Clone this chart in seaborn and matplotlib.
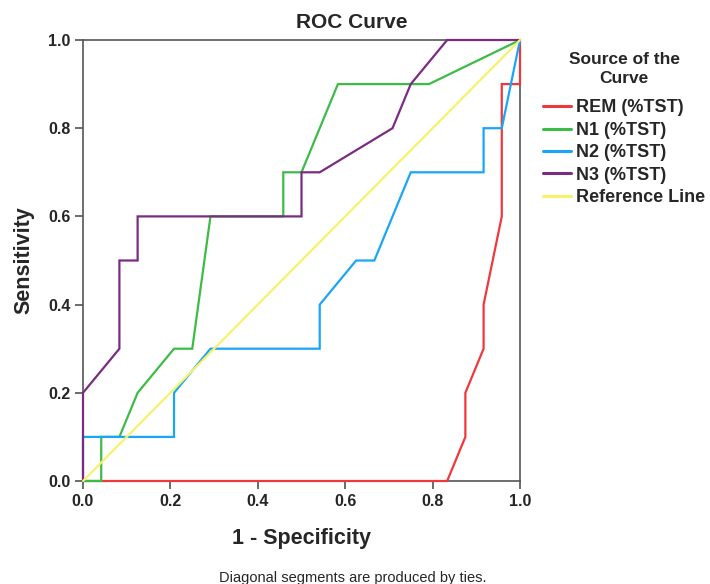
import numpy as np
import pandas as pd
import matplotlib
matplotlib.use("Agg")
import matplotlib.pyplot as plt
import seaborn as sns

# ROC curve coordinates (1 - specificity, sensitivity)
rem_x = [0, 0.8333, 0.875, 0.875, 0.9167, 0.9167, 0.9583, 0.9583, 1.0, 1.0]
rem_y = [0, 0.0, 0.1, 0.2, 0.3, 0.4, 0.6, 0.9, 0.9, 1.0]

n1_x = [0, 0.0417, 0.0417, 0.0833, 0.125, 0.2083, 0.25, 0.2917, 0.4583, 0.4583, 0.5, 0.5833, 0.7917, 1.0]
n1_y = [0, 0.0, 0.1, 0.1, 0.2, 0.3, 0.3, 0.6, 0.6, 0.7, 0.7, 0.9, 0.9, 1.0]

n2_x = [0, 0, 0.2083, 0.2083, 0.2917, 0.5417, 0.5417, 0.625, 0.6667, 0.75, 0.9167, 0.9167, 0.9583, 1.0]
n2_y = [0, 0.1, 0.1, 0.2, 0.3, 0.3, 0.4, 0.5, 0.5, 0.7, 0.7, 0.8, 0.8, 1.0]

n3_x = [0, 0, 0.0833, 0.0833, 0.125, 0.125, 0.5, 0.5, 0.5417, 0.7083, 0.75, 0.8333, 1.0]
n3_y = [0, 0.2, 0.3, 0.5, 0.5, 0.6, 0.6, 0.7, 0.7, 0.8, 0.9, 1.0, 1.0]

ref_x = [0, 1]
ref_y = [0, 1]

series_names = ["REM (%TST)", "N1 (%TST)", "N2 (%TST)", "N3 (%TST)", "Reference Line"]
series_colors = ["#f0373c", "#3dbb47", "#1aa6f7", "#7b2b82", "#f7f26a"]
x_ticks = [0.0, 0.2, 0.4, 0.6, 0.8, 1.0]
y_ticks = [0.0, 0.2, 0.4, 0.6, 0.8, 1.0]

frames = []
for name, xs, ys in zip(series_names,
                        [rem_x, n1_x, n2_x, n3_x, ref_x],
                        [rem_y, n1_y, n2_y, n3_y, ref_y]):
    frames.append(pd.DataFrame({"fpr": xs, "tpr": ys, "Source": name,
                                "order": np.arange(len(xs))}))
df = pd.concat(frames, ignore_index=True)

sns.set_style("white")
plt.rcParams["font.family"] = ["Liberation Sans", "DejaVu Sans"]

fig = plt.figure(figsize=(7.1, 5.84), dpi=100)
ax = fig.add_axes([83/710, 1 - 481/584, 437/710, 441/584])

sns.lineplot(data=df, x="fpr", y="tpr", hue="Source", hue_order=series_names,
             palette=dict(zip(series_names, series_colors)),
             sort=False, estimator=None, units="Source", linewidth=1.6, ax=ax)
for ln in ax.lines:
    ln.set_clip_on(False)
    ln.set_zorder(3)
    ln.set_solid_joinstyle("miter")

ax.set_xlim(0, 1)
ax.set_ylim(0, 1)
ax.set_xticks(x_ticks)
ax.set_yticks(y_ticks)
ax.set_xticklabels([f"{t:.1f}" for t in x_ticks], fontsize=11.5, fontweight="bold")
ax.set_yticklabels([f"{t:.1f}" for t in y_ticks], fontsize=11.5, fontweight="bold")
ax.tick_params(axis="both", direction="out", length=6, width=1.1, color="#444444",
               bottom=True, left=True, top=False, right=False, pad=3)
for sp in ax.spines.values():
    sp.set_visible(True)
    sp.set_color("#555555")
    sp.set_linewidth(1.2)

ax.set_xlabel("1 - Specificity", fontsize=15.5, fontweight="bold", labelpad=14)
ax.set_ylabel("Sensitivity", fontsize=15.5, fontweight="bold", labelpad=10)

fig.text(352/710, 1 - 23/584, "ROC Curve", ha="center", va="center",
         fontsize=15, fontweight="bold")
fig.text(353/710, 1 - 578/584, "Diagonal segments are produced by ties.",
         ha="center", va="center", fontsize=10.5)

handles, labels = ax.get_legend_handles_labels()
ax.get_legend().remove()
leg = fig.legend(handles, labels, title="Source of the\nCurve",
                 loc="upper left", bbox_to_anchor=(543/710, 1 - 52/584),
                 frameon=False, prop={"weight": "bold", "size": 13},
                 title_fontproperties={"weight": "bold", "size": 12.5},
                 handlelength=1.55, handletextpad=0.3, labelspacing=0.3,
                 borderaxespad=0, borderpad=0, alignment="left")
leg.get_title().set_multialignment("center")
leg.get_title().set_linespacing(1.3)
for lh in leg.get_lines():
    lh.set_linewidth(2.2)

leg._legend_box.sep = 10
leg._legend_box.align = "center"

fig.savefig("out.png", dpi=100)
